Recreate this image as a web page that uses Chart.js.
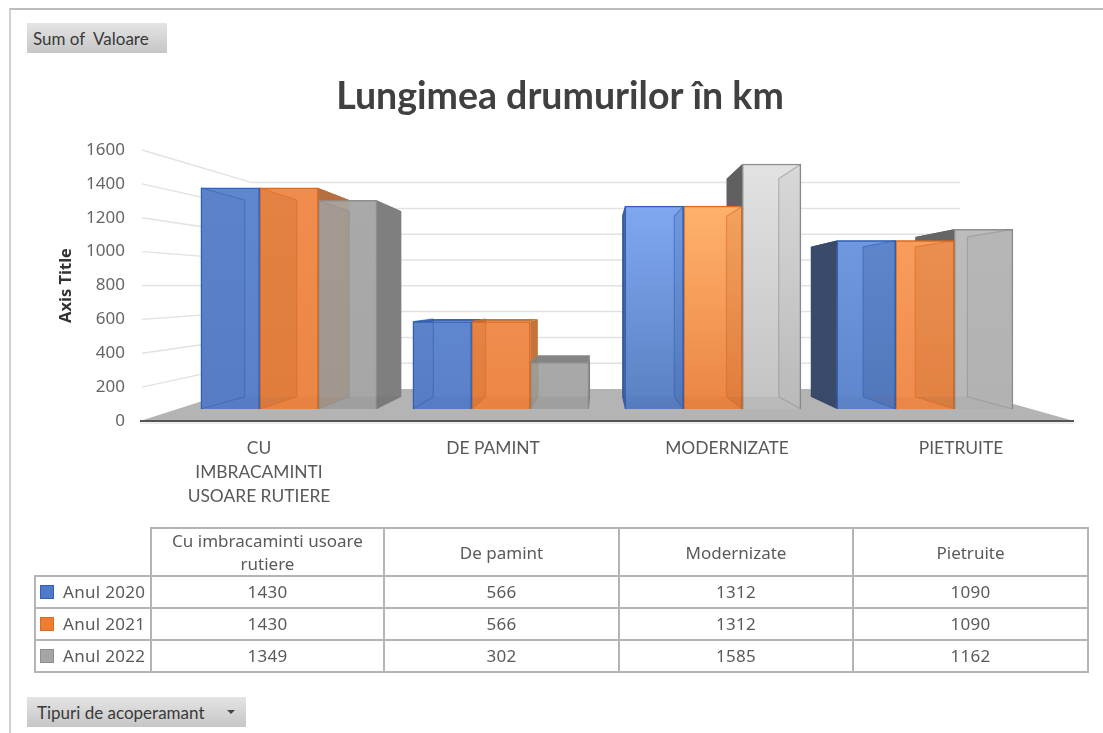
<!DOCTYPE html>
<html><head><meta charset="utf-8">
<script src="https://cdn.jsdelivr.net/npm/chart.js@4"></script>
<style>
html,body{margin:0;padding:0;background:#fff;width:1103px;height:733px;overflow:hidden}
#frame{position:absolute;left:9px;top:8px;width:1094px;height:725px;border-top:2px solid #bdbdbd;border-left:2px solid #d0d0d0;box-sizing:border-box}
canvas{position:absolute;left:0;top:0}
.btn{position:absolute;background:linear-gradient(#e4e4e4,#c6c6c6);color:#3a3a3a;font:17px Lato,sans-serif;display:flex;align-items:center;white-space:pre}
#btn1{left:27px;top:23px;width:140px;height:30px;padding-left:6px;box-sizing:border-box}
#btn2{left:27px;top:697px;width:219px;height:30px;padding-left:10px;box-sizing:border-box}
#btn2 i{position:absolute;left:200px;top:13px;width:0;height:0;border:4px solid transparent;border-top:4px solid #444;border-bottom:0}
table{position:absolute;left:34px;top:527px;border-collapse:collapse;table-layout:fixed;width:1053px;font:17px "Noto Sans",sans-serif;color:#5a5a5a}
td,th{border:2px solid #b4b4b4;text-align:center;font-weight:normal;padding:0;overflow:hidden;white-space:nowrap}
th{white-space:normal;height:45px;line-height:23px}
td{height:32px;padding-bottom:1px;box-sizing:border-box;line-height:28px;letter-spacing:.3px}
th.empty{border-top:0;border-left:0}
td.lg{text-align:left;padding-left:4px;white-space:nowrap;letter-spacing:.3px}
td.lg span{display:inline-block;width:12px;height:12px;margin-right:9px;vertical-align:-1px;border:1px solid}
</style></head><body>
<div id="frame"></div>
<canvas id="c" width="1103" height="733"></canvas>
<div class="btn" id="btn1">Sum of  Valoare</div>
<div class="btn" id="btn2">Tipuri de acoperamant<i></i></div>
<table id="t"></table>
<script>
const chartTitle = "Lungimea drumurilor în km";
const axisTitle = "Axis Title";
const categories = [["CU","IMBRACAMINTI","USOARE RUTIERE"],"DE PAMINT","MODERNIZATE","PIETRUITE"];
const tableHeaders = ["Cu imbracaminti usoare rutiere","De pamint","Modernizate","Pietruite"];
const seriesNames = ["Anul 2020","Anul 2021","Anul 2022"];
const anul2020 = [1430,566,1312,1090];
const anul2021 = [1430,566,1312,1090];
const anul2022 = [1349,302,1585,1162];
const allSeries = [anul2020,anul2021,anul2022];
const yTicks = {min:0,max:1600,step:200};

// styling
const swatch = ['#4f7ac7','#ed7d31','#a5a5a5'];
const edge = ['#2f62b8','#dc6a1e','#8e8e8e'];
const dark = ['#1f3e7a','#a04a10','#2e2e2e'];
const overlayA = [[.05,.05,.14,.2],[.16,.14,.14,.16],[.05,.05,.05,.04]];
const frontTop = [['#5f87cf','#5f87cf','#80a8f0','#6f98e0'],['#f08d4e','#f08d4e','#ffb26c','#f89c5c'],['#a9a9a9','#a9a9a9','#e2e2e2','#bcbcbc']];
const frontBot = [['#5a80c8','#5a80c8','#5a80c2','#5f86cc'],['#ec8644','#ec8644','#ea8544','#ee8c4c'],['#a6a6a6','#a6a6a6','#c2c2c2','#b8b8b8']];
const sideCol = [['#4a6fb5','#4a6fb5','#3d5a99','#3a4a6b'],['#b5703f','#c8743a','#b5703f','#b5703f'],['#7f7f7f','#7f7f7f','#606060','#666666']];
const topCol = [['#4a6fb5','#3f66b0','#5c84d0','#3a5a9a'],['#b5703f','#c8743a','#ffb26c','#d87a38'],['#8a8a8a','#858585','#e0e0e0','#6a6a6a']];
const VP = {x:599,y:298,s:.89};
const tickFont = {family:'"Noto Sans"',size:17};
const P = (x,y)=>[VP.x+VP.s*(x-VP.x),VP.y+VP.s*(y-VP.y)];
function poly(ctx,pts,fill){ctx.beginPath();pts.forEach((p,i)=>i?ctx.lineTo(p[0],p[1]):ctx.moveTo(p[0],p[1]));ctx.closePath();if(fill){ctx.fillStyle=fill;ctx.fill();}}
function boxOf(el){const w=el.width/2;return {l:el.x-w,r:el.x+w,t:el.y,b:el.base};}
function rgba(hex,a){const n=parseInt(hex.slice(1),16);return `rgba(${n>>16},${(n>>8)&255},${n&255},${a})`;}

const depth = {
 id:'depth',
 beforeDatasetsDraw(ch){
  const c=ch.ctx,y=ch.scales.y,yb=ch.scales.yBack;
  const L=ch.chartArea.left,backL=252,backR=960,fr=1074;
  c.save();
  poly(c,[[L-2,y.getPixelForValue(0)],[backL-12,yb.getPixelForValue(0)],[backR,yb.getPixelForValue(0)],[fr,y.getPixelForValue(0)]],'#b4b4b4');
  c.strokeStyle='#e2e2e2';c.lineWidth=1.5;
  y.ticks.forEach(t=>{ if(t.value===0) return;
    const a=y.getPixelForValue(t.value),b=yb.getPixelForValue(t.value);
    c.beginPath();c.moveTo(L,a);c.lineTo(backL,b);c.lineTo(backR,b);c.stroke();
  });
  c.strokeStyle='#555';c.lineWidth=2;c.beginPath();c.moveTo(L-2,y.getPixelForValue(0));c.lineTo(fr,y.getPixelForValue(0));c.stroke();
  c.strokeStyle='#ddd';c.lineWidth=1;c.beginPath();c.moveTo(L-2,y.getPixelForValue(0)+2);c.lineTo(fr,y.getPixelForValue(0)+2);c.stroke();
  ch.data.datasets.forEach((d,s)=>{
   ch.getDatasetMeta(s).data.forEach((el,i)=>{
    const {l,r,t,b}=boxOf(el);
    const top=()=>poly(c,[[l,t],[r,t],P(r,t),P(l,t)],topCol[s][i]);
    if(t<VP.y) top();
    poly(c,[[l,t],[l,b],P(l,b),P(l,t)],sideCol[s][i]);
    poly(c,[[r,t],[r,b],P(r,b),P(r,t)],sideCol[s][i]);
    if(t>=VP.y) top();
   });
  });
  c.restore();
 },
 afterDatasetsDraw(ch){
  const c=ch.ctx;
  c.save();
  ch.data.datasets.forEach((d,s)=>{
   ch.getDatasetMeta(s).data.forEach((el,i)=>{
    const {l,r,t,b}=boxOf(el),a=overlayA[s][i],col=dark[s];
    const inL=P(l,t)[0]>l, inR=P(r,t)[0]<r;
    if(inL) poly(c,[[l,t],[l,b],P(l,b),P(l,t)],rgba(col,a));
    if(inR) poly(c,[[r,t],[r,b],P(r,b),P(r,t)],rgba(col,a));
    if(s===1 && !inR) poly(c,[[r,Math.max(t,P(r,t)[1])],[r,b],P(r,b),P(r,t)],'rgba(190,110,50,.14)');
    poly(c,[[l,b],[r,b],P(r,b),P(l,b)],rgba(col,.06));
    const A=P(l,t),B=P(r,t),C=P(r,b),D=P(l,b);
    c.strokeStyle=rgba(edge[s],.55);c.lineWidth=1.2;
    c.beginPath();
    if(inL){c.moveTo(A[0],A[1]);c.lineTo(D[0],D[1]);c.moveTo(A[0],A[1]);c.lineTo(l,t);c.moveTo(D[0],D[1]);c.lineTo(l,b);}
    if(inR){c.moveTo(B[0],B[1]);c.lineTo(C[0],C[1]);c.moveTo(B[0],B[1]);c.lineTo(r,t);c.moveTo(C[0],C[1]);c.lineTo(r,b);}
    c.stroke();
   });
  });
  c.restore();
 }
};

const ctx=document.getElementById('c').getContext('2d');
new Chart(ctx,{
 type:'bar',
 data:{
  labels:categories,
  datasets:allSeries.map((vals,s)=>({
    label:seriesNames[s],
    data:vals.map((v,i)=>({x:i,y:v})),
    xAxisID:'xBars',yAxisID:'yBars',
    borderColor:edge[s],borderWidth:1.5,
    barThickness:176/3,
    backgroundColor:(cx)=>{
      const i=cx.dataIndex, sc=cx.chart.scales.yBars;
      if(i===undefined||!sc||!cx.raw) return frontBot[s][i||0];
      const y0=sc.getPixelForValue(cx.raw.y), y1=sc.getPixelForValue(0);
      if(!isFinite(y0)||!isFinite(y1)) return frontBot[s][i];
      const g=cx.chart.ctx.createLinearGradient(0,y0,0,y1);
      g.addColorStop(0,frontTop[s][i]);g.addColorStop(1,frontBot[s][i]);return g;
    }
  }))
 },
 options:{
  responsive:false,animation:false,
  layout:{padding:{left:42,right:25,top:0,bottom:0}},
  plugins:{
   legend:{display:false},tooltip:{enabled:false},
   title:{display:true,text:chartTitle,color:'#404040',font:{family:'Lato',size:37.5,weight:'bold',lineHeight:1.2},padding:{top:74,bottom:31}}
  },
  scales:{
   x:{type:'category',axis:'x',position:'bottom',offset:true,labels:categories,
      grid:{display:false},border:{display:false},
      ticks:{color:'#595959',font:{family:'Lato',size:17.4,lineHeight:1.38},padding:7,maxRotation:0,autoSkip:false},
      afterFit(s){s.height=312;}},
   y:{type:'linear',axis:'y',position:'left',min:yTicks.min,max:yTicks.max,
      grid:{display:false},border:{display:false},
      ticks:{stepSize:yTicks.step,format:{useGrouping:false},color:'#666',font:tickFont,padding:9},
      title:{display:true,text:axisTitle,color:'#333',font:{family:'"Noto Sans"',size:16.5,weight:'bold'},padding:{top:14,bottom:0}},
      afterFit(s){s.width=100;}},
   xBars:{type:'linear',axis:'x',position:'bottom',display:false,offset:false,min:-0.693,max:3.722,grid:{display:false}},
   yBars:{type:'linear',axis:'y',position:'left',display:false,min:-77.6,max:1675.3},
   yBack:{type:'linear',axis:'y',position:'left',display:false,min:-248,max:1852.7}
  }
 },
 plugins:[depth]
});

let html='<colgroup><col style="width:116px">'+tableHeaders.map((_,i)=>`<col style="width:${[233,235,234,235][i]}px">`).join('')+'</colgroup>';
html+='<tr><th class="empty"></th>'+tableHeaders.map(h=>`<th style="padding:0 14px">${h}</th>`).join('')+'</tr>';
seriesNames.forEach((n,s)=>{
  html+=`<tr><td class="lg"><span style="background:${swatch[s]};border-color:${edge[s]}"></span>${n}</td>`+allSeries[s].map(v=>`<td>${v}</td>`).join('')+'</tr>';
});
document.getElementById('t').innerHTML=html;
</script>
</body></html>
